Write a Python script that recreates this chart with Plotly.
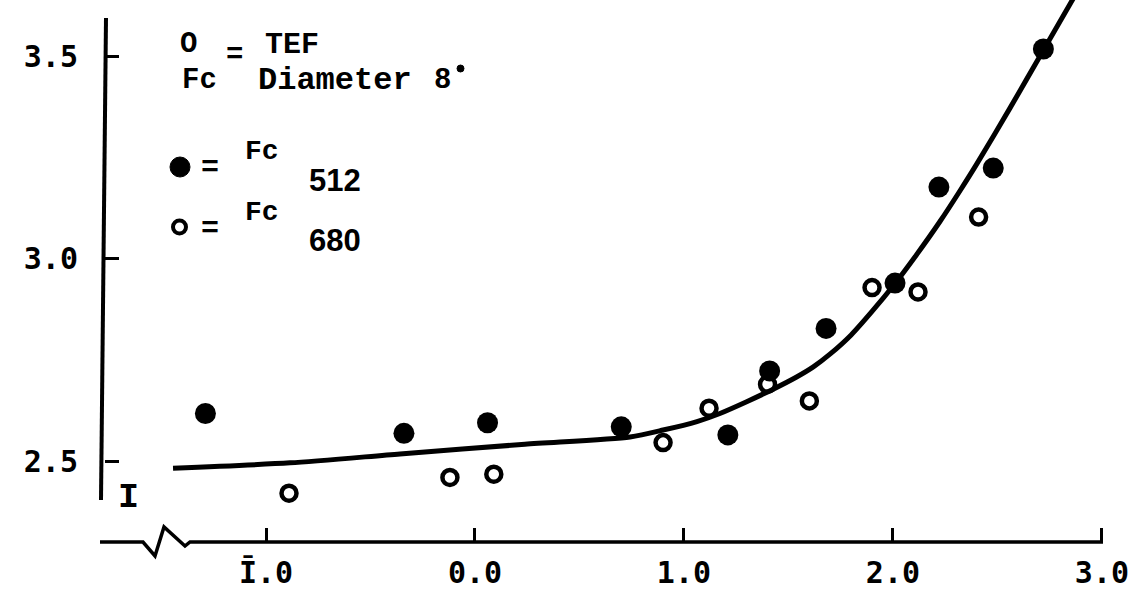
import plotly.graph_objects as go

W, H = 1146, 605

# ---- data ----
fc512_x = [-1.29, -0.34, 0.06, 0.70, 1.21, 1.41, 1.68, 2.01, 2.22, 2.48, 2.72]
fc512_y = [2.618, 2.569, 2.595, 2.585, 2.565, 2.723, 2.828, 2.94, 3.177, 3.224, 3.518]
fc680_x = [-0.89, -0.12, 0.09, 0.90, 1.12, 1.40, 1.60, 1.90, 2.12, 2.41]
fc680_y = [2.421, 2.46, 2.468, 2.546, 2.631, 2.69, 2.649, 2.929, 2.918, 3.103]
fit_x = [-1.445, -0.885, -0.359, 0.239, 0.742, 0.900, 1.062, 1.172, 1.300, 1.427, 1.539,
         1.619, 1.700, 1.800, 1.900, 2.010, 2.113, 2.225, 2.321, 2.400, 2.560, 2.722, 2.871]
fit_y = [2.483, 2.496, 2.518, 2.542, 2.560, 2.577, 2.598, 2.618, 2.647, 2.678, 2.708,
         2.733, 2.765, 2.812, 2.870, 2.939, 3.010, 3.092, 3.168, 3.233, 3.372, 3.517, 3.650]
x_tickvals = [-1, 0, 1, 2, 3]
x_ticktext = ["Ī.0", "0.0", "1.0", "2.0", "3.0"]
y_tickvals = [2.5, 3.0, 3.5]
y_ticktext = ["2.5", "3.0", "3.5"]


def px(x):
    return x / W


def py(y):
    return 1 - y / H


def pt(x, y):
    return f"{px(x):.5f},{py(y):.5f}"


fig = go.Figure()
fig.add_trace(go.Scatter(x=fit_x, y=fit_y, mode="lines",
                         line=dict(color="black", width=5, shape="spline", smoothing=0.7),
                         hoverinfo="skip", showlegend=False))
fig.add_trace(go.Scatter(x=fc512_x, y=fc512_y, mode="markers", name="Fc 512",
                         marker=dict(symbol="circle", size=21, color="black"), showlegend=False))
fig.add_trace(go.Scatter(x=fc680_x, y=fc680_y, mode="markers", name="Fc 680",
                         marker=dict(symbol="circle-open", size=15, color="black",
                                     line=dict(width=4.5, color="black")), showlegend=False))

tickfont = dict(family="DejaVu Sans Mono", size=30, color="black", weight="bold")

fig.update_layout(
    width=W, height=H,
    margin=dict(l=0, r=0, t=0, b=0),
    paper_bgcolor="white", plot_bgcolor="white",
    xaxis=dict(range=[-2.273, 3.211], showgrid=False, zeroline=False, showline=False,
               tickmode="array", tickvals=x_tickvals, ticktext=x_ticktext,
               ticks="inside", ticklen=14, tickwidth=3, tickcolor="black",
               anchor="free", position=py(542), tickfont=tickfont, ticklabelstandoff=10,
               fixedrange=True),
    yaxis=dict(range=[2.145, 3.639], showgrid=False, zeroline=False, showline=False,
               tickmode="array", tickvals=y_tickvals, ticktext=y_ticktext,
               ticks="inside", ticklen=14, tickwidth=3, tickcolor="black",
               anchor="free", position=px(104), tickfont=tickfont, ticklabelstandoff=26,
               fixedrange=True),
)

shapes = []
# y axis line
shapes.append(dict(type="line", xref="paper", yref="paper",
                   x0=px(106), y0=py(18), x1=px(101), y1=py(500),
                   line=dict(color="black", width=4)))
# x axis line with break zigzag
path = ("M " + pt(100, 542) + " L " + pt(143, 542) + " L " + pt(155, 556) + " L " +
        pt(164, 527) + " L " + pt(185, 546) + " L " + pt(190, 542) + " L " + pt(1103, 542))
shapes.append(dict(type="path", xref="paper", yref="paper", path=path,
                   line=dict(color="black", width=3.5)))
# legend symbols
shapes.append(dict(type="circle", xref="paper", yref="paper",
                   x0=px(170), x1=px(190), y0=py(177), y1=py(157),
                   fillcolor="black", line=dict(color="black", width=1)))
shapes.append(dict(type="circle", xref="paper", yref="paper",
                   x0=px(173), x1=px(186), y0=py(233.5), y1=py(220.5),
                   fillcolor="rgba(0,0,0,0)", line=dict(color="black", width=4)))
# small dot after "8"
shapes.append(dict(type="circle", xref="paper", yref="paper",
                   x0=px(457), x1=px(464), y0=py(72), y1=py(65),
                   fillcolor="black", line=dict(color="black", width=1)))
fig.update_layout(shapes=shapes)

mono = "Liberation Mono"
sans = "Liberation Sans"


def ann(text, x, y, size, family=mono, xanchor="center"):
    fig.add_annotation(text=text, x=px(x), y=py(y), xref="paper", yref="paper",
                       xanchor=xanchor, yanchor="middle", showarrow=False, borderpad=0,
                       font=dict(family=family, size=size, color="black", weight="bold"))


ann("O", 188, 45, 29)
ann("=", 234, 56, 29)
ann("TEF", 292, 45, 30)
ann("Fc", 199, 81, 29)
ann("Diameter", 335, 81, 32)
ann("8", 442, 81, 29)
ann("=", 210, 168, 30)
ann("Fc", 262, 152, 28)
ann("512", 335, 180, 31, family=sans)
ann("=", 210, 229, 30)
ann("Fc", 262, 212, 28)
ann("680", 335, 240, 31, family=sans)
ann("I", 128, 498, 35)

fig.write_html("out.html")
